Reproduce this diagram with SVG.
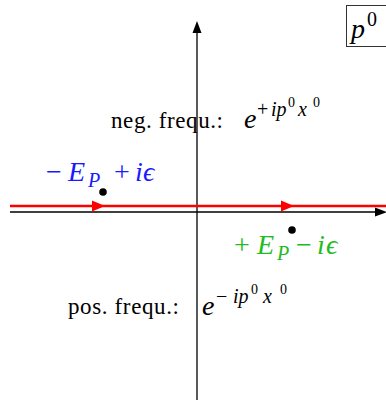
<svg xmlns="http://www.w3.org/2000/svg" width="386" height="400" viewBox="0 0 386 400">
<style>
.rm{font-family:"Liberation Serif","Times New Roman",serif;font-size:23px;fill:#000}
.m{font-family:"Liberation Serif","Times New Roman",serif;font-style:italic;font-size:28px}
.n{font-style:normal}
.s{font-size:20px}
.ss{font-size:14px}
.ax{stroke:#000;stroke-width:1.3;fill:none}
.contour{stroke:#ff0000;stroke-width:2.6;fill:none}
</style>
<rect width="386" height="400" fill="#fff"/>
<g id="connectors">
<line class="ax" x1="197" y1="400" x2="197" y2="32"/>
<polygon points="197,21 192.5,33 201.5,33" fill="#000"/>
<line class="ax" x1="10" y1="212" x2="376" y2="212"/>
<polygon points="387,212 375,207.5 375,216.5" fill="#000"/>
<line class="contour" x1="10" y1="206" x2="386" y2="206"/>
<polygon points="105,206 92,200.5 92,211.5" fill="#ff0000"/>
<polygon points="294,206 281,200.5 281,211.5" fill="#ff0000"/>
</g>
<g id="pole-upper">
<circle cx="103" cy="192" r="3.8" fill="#000"/>
<text class="m" fill="#1a1aff" y="181"><tspan class="n" x="46">−</tspan><tspan x="68">E</tspan><tspan class="s" x="88" y="187">P</tspan><tspan class="n" x="114" y="181">+</tspan><tspan x="135">i</tspan><tspan x="143">ϵ</tspan></text>
</g>
<g id="pole-lower">
<circle cx="292" cy="230" r="3.8" fill="#000"/>
<text class="m" fill="#22bb22" y="254"><tspan class="n" x="234">+</tspan><tspan x="257">E</tspan><tspan class="s" x="277" y="260">P</tspan><tspan class="n" x="296" y="254">−</tspan><tspan x="317">i</tspan><tspan x="326">ϵ</tspan></text>
</g>
<g id="neg-frequ">
<text class="rm" x="111" y="128" textLength="112" lengthAdjust="spacing">neg.  frequ.:</text>
<text class="m" fill="#000" y="128"><tspan x="244">e</tspan><tspan class="s n" x="257" y="116">+</tspan><tspan class="s" x="271">ip</tspan><tspan class="ss n" x="288" y="107">0</tspan><tspan class="s" x="298" y="116">x</tspan><tspan class="ss n" x="313" y="107">0</tspan></text>
</g>
<g id="pos-frequ">
<text class="rm" x="68" y="314" textLength="111" lengthAdjust="spacing">pos.  frequ.:</text>
<text class="m" fill="#000" y="315"><tspan x="202">e</tspan><tspan class="s n" x="216" y="303">−</tspan><tspan class="s" x="233">ip</tspan><tspan class="ss n" x="251" y="294">0</tspan><tspan class="s" x="263" y="303">x</tspan><tspan class="ss n" x="280" y="294">0</tspan></text>
</g>
<g id="label-p0">
<rect x="346.5" y="5.5" width="45" height="41" fill="none" stroke="#333" stroke-width="1"/>
<text class="m" fill="#000" y="38"><tspan x="351">p</tspan><tspan class="s n" x="367" y="26">0</tspan></text>
</g>
</svg>
